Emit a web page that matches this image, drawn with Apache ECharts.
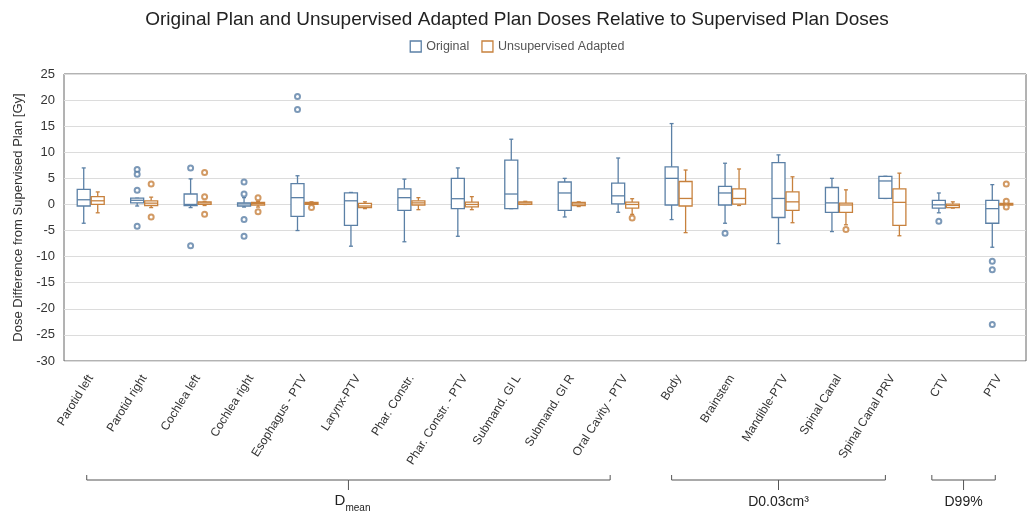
<!DOCTYPE html>
<html><head><meta charset="utf-8">
<script src="https://cdn.jsdelivr.net/npm/echarts@6/dist/echarts.min.js"></script>
<style>html,body{margin:0;padding:0;background:#fff}#c{width:1034px;height:513px}</style>
</head><body><div id="c"></div>
<script>
const categories = ['Parotid left','Parotid right','Cochlea left','Cochlea right','Esophagus - PTV','Larynx-PTV','Phar. Constr.','Phar. Constr. - PTV','Submand. Gl L','Submand. Gl R','Oral Cavity - PTV','Body','Brainstem','Mandible-PTV','Spinal Canal','Spinal Canal PRV','CTV','PTV'];
// [min, Q1, median, Q3, max]
const originalBox = [
  [-3.6,-0.3,0.9,2.9,7.0],[-0.3,0.3,0.8,1.2,1.2],[-0.6,-0.2,0,2.0,4.9],[-0.5,-0.3,0.1,0.3,1.3],
  [-5.0,-2.3,1.3,4.0,5.5],[-8.0,-4.0,0.7,2.2,2.3],[-7.15,-1.15,1.3,3.0,4.85],[-6.1,-0.8,1.1,5.0,7.0],
  [-0.8,-0.8,2.0,8.5,12.5],[-2.4,-1.15,2.2,4.3,5.0],[-1.5,0.1,1.65,4.1,8.9],[-2.9,-0.1,5.0,7.2,15.5],
  [-3.6,-0.1,2.2,3.45,7.9],[-7.5,-2.5,1.15,8.0,9.5],[-5.2,-1.5,0.3,3.25,5.0],[1.15,1.15,4.5,5.4,5.4],
  [-1.6,-0.7,-0.07,0.77,2.2],[-8.2,-3.6,-0.8,0.8,3.8]
];
const adaptedBox = [
  [-1.6,0,0.7,1.5,2.4],[-0.6,-0.2,0.25,0.7,1.4],[-0.2,0,0.3,0.5,0.6],[-0.5,-0.1,0.2,0.4,0.6],
  [-0.1,0,0.2,0.4,0.5],[-0.8,-0.6,-0.3,0.2,0.5],[-1.0,-0.1,0.3,0.7,1.3],[-1.0,-0.45,0,0.45,1.5],
  [0,0,0.3,0.5,0.6],[-0.4,-0.2,0.1,0.4,0.5],[-1.9,-0.7,0,0.45,1.1],[-5.4,-0.3,1.15,4.4,6.6],
  [-0.2,0.05,1.15,3.0,6.8],[-3.5,-1.15,0.5,2.4,5.3],[-3.9,-1.5,-0.1,0.25,2.8],[-6.0,-4.0,0.4,3.0,6.0],
  [-0.7,-0.6,-0.2,0.05,0.5],[-0.3,-0.1,0,0.2,0.4]
];
// [category index, value]
const originalOutliers = [[1,6.7],[1,5.8],[1,2.7],[1,-4.2],[2,7.0],[2,-7.9],[3,4.3],[3,2.0],[3,-2.9],[3,-6.1],[4,20.7],[4,18.2],[12,-5.5],[16,-3.2],[17,-10.9],[17,-12.5],[17,-23.0]];
const adaptedOutliers = [[1,3.9],[1,-2.4],[2,6.1],[2,1.5],[2,-1.9],[3,1.3],[3,-1.4],[4,-0.6],[10,-2.6],[14,-4.8],[17,3.9],[17,0.6],[17,-0.5]];
const yTicks = {min:-30, max:25, interval:5};
const groups = [
  {label:'D', sub:'mean', from:0, to:10},
  {label:'D0.03cm\u00b3', sub:'', from:11, to:15},
  {label:'D99%', sub:'', from:16, to:17}
];

const BLUE = '#5b80a6', ORANGE = '#c7813d';
const OFF = 7, HW = 6.5, CAP = 2;

function boxRenderer(offset, color) {
  return function (params, api) {
    const i = api.value(0);
    const px = v => api.coord([i, v]);
    const cx = px(api.value(3))[0] + offset;
    const yMin = px(api.value(1))[1], yQ1 = px(api.value(2))[1], yMed = px(api.value(3))[1],
          yQ3 = px(api.value(4))[1], yMax = px(api.value(5))[1];
    const st = {stroke: color, lineWidth: 1.3, fill: null};
    return {type:'group', children:[
      {type:'line', shape:{x1:cx,y1:yQ3,x2:cx,y2:yMax}, style:st},
      {type:'line', shape:{x1:cx,y1:yQ1,x2:cx,y2:yMin}, style:st},
      {type:'line', shape:{x1:cx-CAP,y1:yMax,x2:cx+CAP,y2:yMax}, style:st},
      {type:'line', shape:{x1:cx-CAP,y1:yMin,x2:cx+CAP,y2:yMin}, style:st},
      {type:'rect', shape:{x:cx-HW,y:yQ3,width:HW*2,height:Math.max(yQ1-yQ3,1)}, style:{stroke:color,lineWidth:1.3,fill:'#fff'}},
      {type:'line', shape:{x1:cx-HW,y1:yMed,x2:cx+HW,y2:yMed}, style:st}
    ]};
  };
}
const toCustom = arr => arr.map((b, i) => [i].concat(b));

const chart = echarts.init(document.getElementById('c'), null, {renderer:'canvas'});
const FONT = 'Liberation Sans, Arial, sans-serif';
chart.setOption({
  animation: false,
  textStyle: {fontFamily: FONT},
  title: {text:'Original Plan and Unsupervised Adapted Plan Doses Relative to Supervised Plan Doses', left:'center', top:5,
    textStyle:{fontFamily:FONT, fontSize:19, fontWeight:'normal', color:'#222'}},
  legend: {top:35, left:'center', itemWidth:11, itemHeight:11, itemGap:12,
    textStyle:{fontFamily:FONT, fontSize:12.5, color:'#555'},
    data:[
      {name:'Original', icon:'rect', itemStyle:{color:'#fff', borderColor:BLUE, borderWidth:1.3}},
      {name:'Unsupervised Adapted', icon:'rect', itemStyle:{color:'#fff', borderColor:ORANGE, borderWidth:1.3}}
    ]},
  grid: {left:64, right:8, top:74, bottom:152, show:true, borderColor:'#666', borderWidth:1},
  xAxis: {type:'category', data:categories, axisTick:{show:false}, axisLine:{show:false},
    axisLabel:{rotate:58, fontFamily:FONT, fontSize:12, color:'#333', margin:15, interval:0}},
  yAxis: {type:'value', min:yTicks.min, max:yTicks.max, interval:yTicks.interval,
    name:'Dose Difference from Supervised Plan [Gy]', nameLocation:'middle', nameGap:37,
    nameTextStyle:{fontFamily:FONT, fontSize:13, color:'#333'},
    axisLine:{show:false}, axisTick:{show:false},
    axisLabel:{fontFamily:FONT, fontSize:13, color:'#333', margin:9},
    splitLine:{lineStyle:{color:'#dcdcdc', width:1}}},
  series: [
    {name:'Original', type:'custom', renderItem: boxRenderer(-OFF, BLUE), data: toCustom(originalBox),
     encode:{x:0, y:[1,2,3,4,5]}, itemStyle:{color:BLUE}, z:3},
    {name:'Unsupervised Adapted', type:'custom', renderItem: boxRenderer(OFF, ORANGE), data: toCustom(adaptedBox),
     encode:{x:0, y:[1,2,3,4,5]}, itemStyle:{color:ORANGE}, z:3},
    {name:'Original', type:'scatter', data: originalOutliers, symbol:'emptyCircle', symbolSize:5, symbolOffset:[-OFF,0],
     itemStyle:{color:BLUE, borderWidth:1.3}, z:4},
    {name:'Unsupervised Adapted', type:'scatter', data: adaptedOutliers, symbol:'emptyCircle', symbolSize:5, symbolOffset:[OFF,0],
     itemStyle:{color:ORANGE, borderWidth:1.3}, z:4}
  ]
});

// group brackets under category labels, positioned from the category axis
const edgeAdj = {0:[-4,-15], 1:[-7,-7], 2:[-14,-4]};
const gfx = [];
const yLine = 480;
groups.forEach((g, gi) => {
  const x1 = chart.convertToPixel({xAxisIndex:0}, g.from) + edgeAdj[gi][0];
  const x2 = chart.convertToPixel({xAxisIndex:0}, g.to) + edgeAdj[gi][1];
  const xm = (x1 + x2) / 2;
  const st = {stroke:'#555', lineWidth:1, fill:null};
  gfx.push({type:'polyline', shape:{points:[[x1,yLine-5],[x1,yLine],[x2,yLine],[x2,yLine-5]]}, style:st});
  gfx.push({type:'line', shape:{x1:xm,y1:yLine,x2:xm,y2:yLine+10}, style:st});
  if (g.sub) {
    gfx.push({type:'text', x:xm-3, y:501, style:{text:g.label, fontFamily:FONT, fontSize:15, fill:'#222', align:'right', verticalAlign:'middle'}});
    gfx.push({type:'text', x:xm-3, y:508, style:{text:g.sub, fontFamily:FONT, fontSize:10, fill:'#222', align:'left', verticalAlign:'middle'}});
  } else {
    gfx.push({type:'text', x:xm, y:502, style:{text:g.label, fontFamily:FONT, fontSize:14, fill:'#222', align:'center', verticalAlign:'middle'}});
  }
});
chart.setOption({graphic: gfx});
</script>
</body></html>
